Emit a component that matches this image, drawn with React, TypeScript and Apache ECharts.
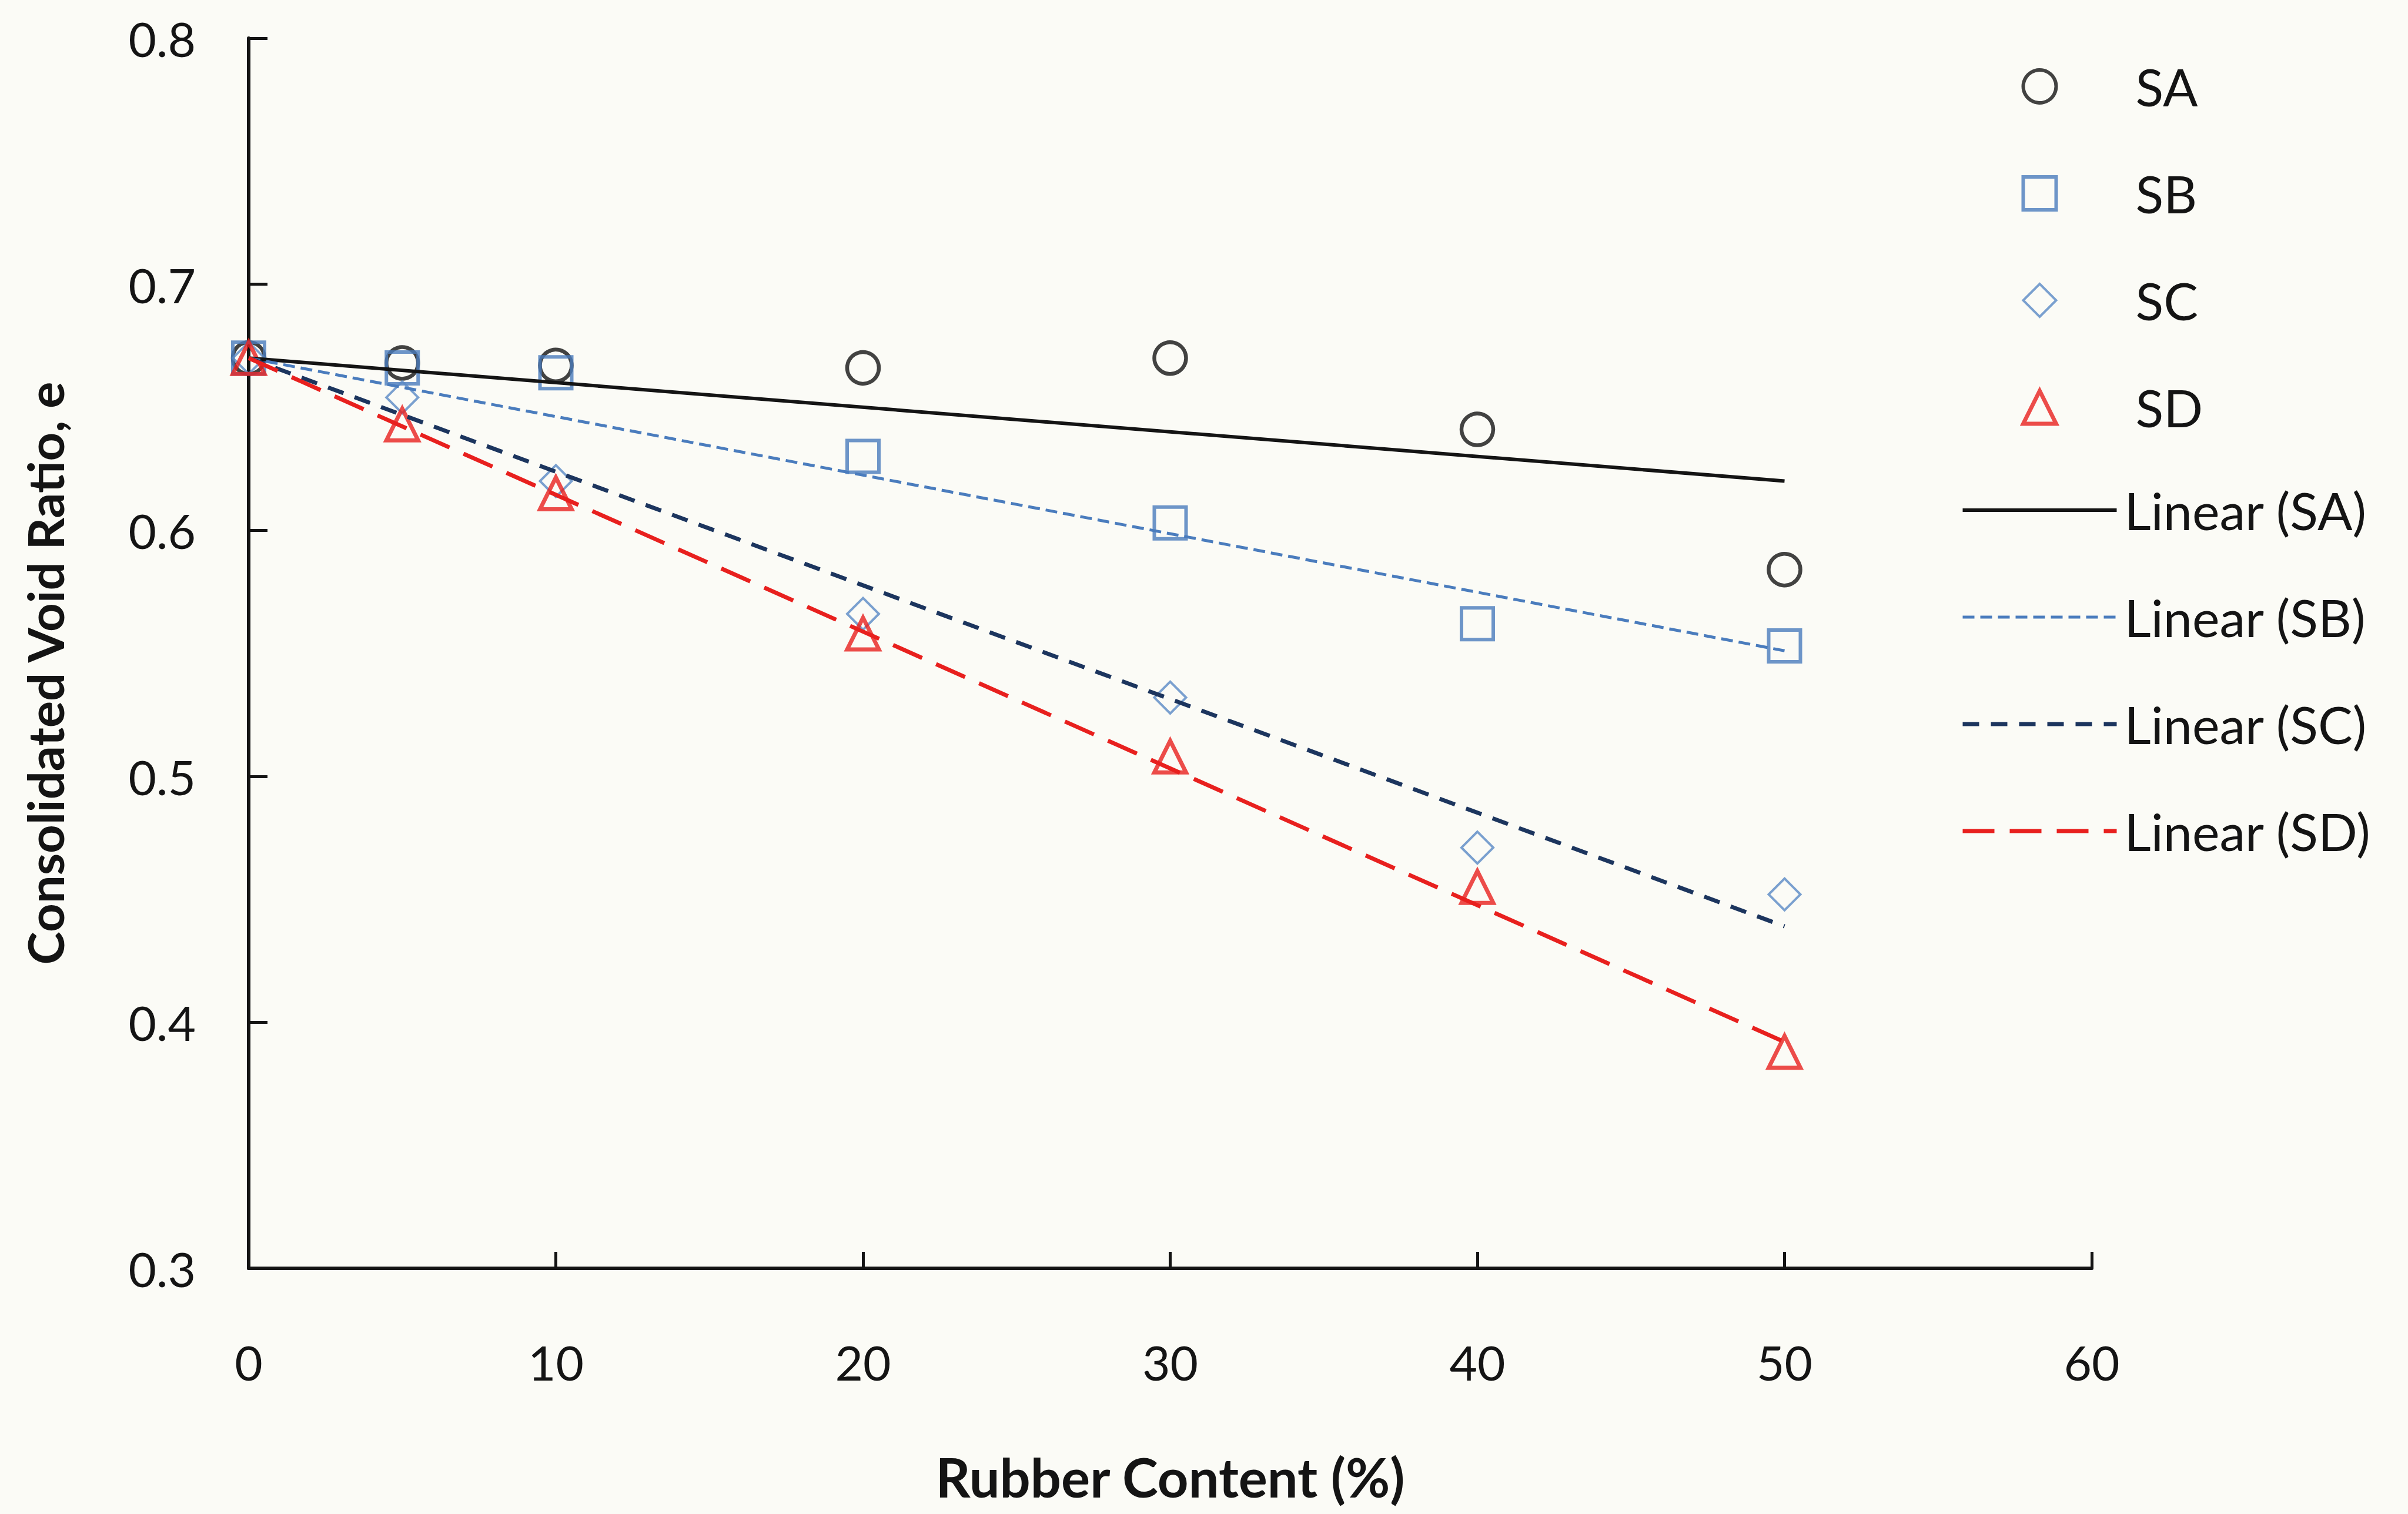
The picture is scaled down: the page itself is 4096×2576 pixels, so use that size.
import React, { useEffect, useRef } from "react";
import * as echarts from "echarts";

// ---- data ----
const rubberContent = [0, 5, 10, 20, 30, 40, 50];
const saValues = [0.670, 0.668, 0.667, 0.666, 0.670, 0.641, 0.584];
const sbValues = [0.670, 0.666, 0.664, 0.630, 0.603, 0.562, 0.553];
const scValues = [0.670, 0.654, 0.620, 0.566, 0.532, 0.471, 0.452];
const sdValues = [0.670, 0.643, 0.615, 0.558, 0.508, 0.455, 0.388];

// linear trend lines: [x, value] at the ends
const trendX = [0, 50];
const saTrend = [0.670, 0.620];
const sbTrend = [0.670, 0.551];
const scTrend = [0.670, 0.439];
const sdTrend = [0.670, 0.392];

const scatterNames = ["SA", "SB", "SC", "SD"];
const trendNames = ["Linear (SA)", "Linear (SB)", "Linear (SC)", "Linear (SD)"];

const xTitle = "Rubber Content (%)";
const yTitle = "Consolidated Void Ratio, e";

const FONT = 'Lato, "Open Sans", "DejaVu Sans", sans-serif';
const BLACK = "#141414";
const BLUE = "#4a7cbd";
const BLUE_LIGHT = "#5a8ac6";
const NAVY = "#1c355e";
const RED = "#e8201e";

const pairs = (xs: number[], ys: number[]) => xs.map((x, i) => [x, ys[i]]);

export default function App() {
  const ref = useRef<HTMLDivElement>(null);

  useEffect(() => {
    if (!ref.current) return;
    const chart = echarts.init(ref.current, undefined, { renderer: "svg" });

    const markerSize = 54;
    const scatter = (name: string, ys: number[], symbol: string, color: string, bw: number, size = markerSize) => ({
      name,
      type: "scatter",
      data: pairs(rubberContent, ys),
      symbol,
      symbolSize: size,
      itemStyle: { color: "transparent", borderColor: color, borderWidth: bw },
      z: 3,
    });
    const trend = (name: string, ys: number[], color: string, width: number, type: any) => ({
      name,
      type: "line",
      data: pairs(trendX, ys),
      symbol: "none",
      showSymbol: false,
      itemStyle: { color },
      lineStyle: { color, width, type },
      z: 4,
    });

    const sbDash = [20, 10];
    const scDash = [28, 20];
    const sdDash = [54, 26];

    chart.setOption({
      animation: false,
      backgroundColor: "#fbfbf6",
      grid: { left: 423, right: 4096 - 3558, top: 65, bottom: 2576 - 2158, containLabel: false },
      xAxis: {
        type: "value",
        min: 0,
        max: 60,
        interval: 10,
        name: xTitle,
        nameLocation: "middle",
        nameGap: 308,
        nameTextStyle: { fontFamily: FONT, fontSize: 92, fontWeight: "bold", color: BLACK },
        axisLine: { lineStyle: { color: BLACK, width: 6 } },
        axisTick: { inside: true, length: 28, lineStyle: { color: BLACK, width: 5 } },
        axisLabel: { fontFamily: FONT, fontSize: 82, color: BLACK, margin: 118 },
        splitLine: { show: false },
      },
      yAxis: {
        type: "value",
        min: 0.3,
        max: 0.8,
        interval: 0.1,
        name: yTitle,
        nameLocation: "middle",
        nameGap: 305,
        nameRotate: 90,
        nameTextStyle: {
          fontFamily: FONT,
          fontSize: 85,
          fontWeight: "bold",
          color: BLACK,
          padding: [0, 68, 0, 0],
        },
        axisLine: { lineStyle: { color: BLACK, width: 6 } },
        axisTick: { inside: true, length: 32, lineStyle: { color: BLACK, width: 5 } },
        axisLabel: {
          fontFamily: FONT,
          fontSize: 82,
          color: BLACK,
          margin: 90,
          formatter: (v: number) => v.toFixed(1),
        },
        splitLine: { show: false },
      },
      legend: [
        {
          orient: "vertical",
          left: 3433,
          top: 98,
          itemWidth: 56,
          itemHeight: 56,
          itemGap: 94,
          textStyle: { fontFamily: FONT, fontSize: 88, color: BLACK, padding: [0, 0, 0, 130] },
          data: [
            { name: scatterNames[0], itemStyle: { borderWidth: 6 } },
            { name: scatterNames[1], itemStyle: { borderWidth: 6 } },
            { name: scatterNames[2], itemStyle: { borderWidth: 4 } },
            { name: scatterNames[3], itemStyle: { borderWidth: 7 } },
          ],
        },
        {
          orient: "vertical",
          left: 3330,
          top: 819,
          itemWidth: 262,
          itemHeight: 56,
          itemGap: 94,
          textStyle: { fontFamily: FONT, fontSize: 88, color: BLACK, padding: [0, 0, 0, 8] },
          data: [
            { name: trendNames[0], itemStyle: { opacity: 0 }, lineStyle: { width: 6, type: "solid" } },
            { name: trendNames[1], itemStyle: { opacity: 0 }, lineStyle: { width: 5, type: sbDash } },
            { name: trendNames[2], itemStyle: { opacity: 0 }, lineStyle: { width: 7, type: scDash } },
            { name: trendNames[3], itemStyle: { opacity: 0 }, lineStyle: { width: 7, type: sdDash } },
          ],
        },
      ],
      series: [
        scatter(scatterNames[0], saValues, "circle", BLACK, 6.5),
        scatter(scatterNames[1], sbValues, "rect", BLUE, 6),
        scatter(scatterNames[2], scValues, "diamond", BLUE_LIGHT, 4),
        scatter(scatterNames[3], sdValues, "triangle", RED, 7),
        trend(trendNames[0], saTrend, BLACK, 6, "solid"),
        trend(trendNames[1], sbTrend, BLUE, 5, sbDash),
        trend(trendNames[2], scTrend, NAVY, 7, scDash),
        trend(trendNames[3], sdTrend, RED, 7, sdDash),
      ],
    });

    return () => chart.dispose();
  }, []);

  return (
    <div
      ref={ref}
      style={{ position: "fixed", left: 0, top: 0, width: 4096, height: 2576 }}
    />
  );
}
